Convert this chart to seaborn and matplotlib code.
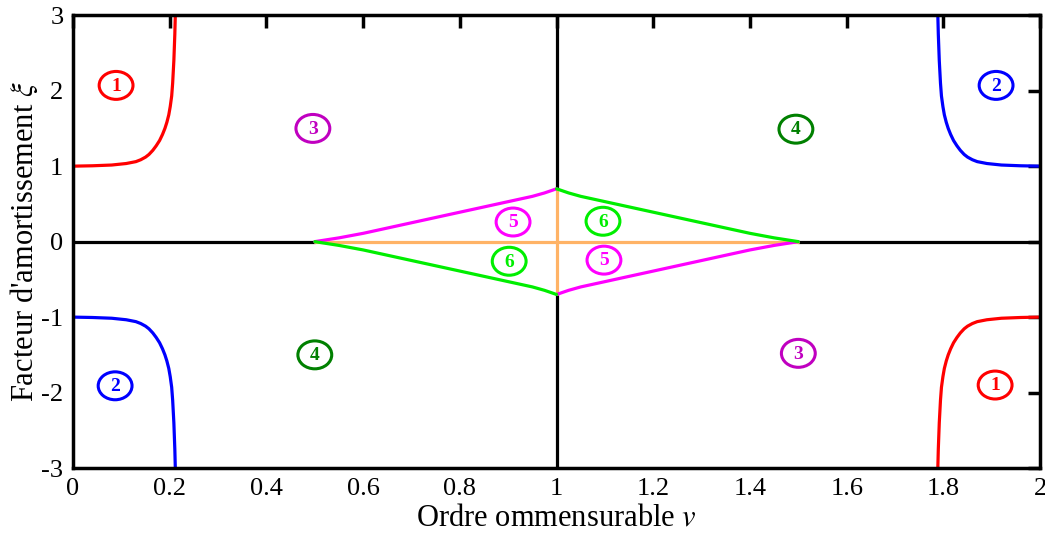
import numpy as np
import pandas as pd
import matplotlib
matplotlib.use('Agg')
import matplotlib.pyplot as plt
from matplotlib.patches import Ellipse
import seaborn as sns

# Curve 1 (red, top left): v -> xi
v_asym = [0.0, 0.04, 0.08, 0.11, 0.13, 0.14, 0.15, 0.157, 0.165, 0.172, 0.179,
          0.185, 0.19, 0.194, 0.198, 0.201, 0.204, 0.206, 0.2085, 0.2105, 0.2115]
xi_asym = [1.0, 1.005, 1.015, 1.035, 1.06, 1.085, 1.12, 1.155, 1.21, 1.27, 1.34,
           1.42, 1.5, 1.58, 1.68, 1.79, 1.93, 2.1, 2.4, 2.75, 3.0]

# Left half of the diamond (upper edge, magenta): v -> xi
v_diam = [0.5, 0.55, 0.6, 0.65, 0.7, 0.75, 0.8, 0.85, 0.9, 0.95, 0.975, 1.0]
xi_diam = [0.0, 0.05, 0.11, 0.18, 0.25, 0.32, 0.39, 0.46, 0.53, 0.6, 0.645, 0.70]

# Region labels
lab_text = ['1', '2', '3', '4', '5', '6', '6', '5', '4', '3', '2', '1']
lab_v = [0.089, 1.909, 0.496, 1.495, 0.910, 1.096, 0.902, 1.098, 0.50, 1.50, 0.087, 1.907]
lab_xi = [2.07, 2.07, 1.50, 1.49, 0.26, 0.27, -0.26, -0.245, -1.50, -1.48, -1.91, -1.90]
lab_col = ['#ff0000', '#0000ff', '#c000c0', '#008000', '#ff00ff', '#00ee00',
           '#00ee00', '#ff00ff', '#008000', '#c000c0', '#0000ff', '#ff0000']

x_ticks = [0, 0.2, 0.4, 0.6, 0.8, 1, 1.2, 1.4, 1.6, 1.8, 2]
x_ticklabels = ['0', '0.2', '0.4', '0.6', '0.8', '1', '1.2', '1.4', '1.6', '1.8', '2']
y_ticks = [-3, -2, -1, 0, 1, 2, 3]

sns.set_style('white')
plt.rcParams['font.family'] = ['Liberation Serif', 'DejaVu Serif']
plt.rcParams['mathtext.fontset'] = 'stix'
plt.rcParams['axes.unicode_minus'] = False
plt.rcParams['text.color'] = 'black'
plt.rcParams['axes.labelcolor'] = 'black'

fig = plt.figure(figsize=(10.45, 5.43), dpi=100)
ax = fig.add_axes([0.0699, 0.138, 0.9254, 0.834])

lw = 2.3
va = np.array(v_asym)
xa = np.array(xi_asym)
vd = np.array(v_diam)
xd = np.array(xi_diam)


def line(x, y, color):
    df = pd.DataFrame({'v': x, 'xi': y})
    sns.lineplot(data=df, x='v', y='xi', color=color, lw=lw, sort=False,
                 estimator=None, ax=ax)


# black and orange axes lines
line([0, 0.5], [0, 0], 'black')
line([1.5, 2], [0, 0], 'black')
line([1, 1], [0.70, 3], 'black')
line([1, 1], [-3, -0.70], 'black')
line([0.5, 1.5], [0, 0], '#ffb366')
line([1, 1], [-0.70, 0.70], '#ffb366')

# asymptotic curves
line(va, xa, '#ff0000')
line(2 - va, -xa, '#ff0000')
line(va, -xa, '#0000ff')
line(2 - va, xa, '#0000ff')

# diamond
line(vd, xd, '#ff00ff')
line(2 - vd, -xd, '#ff00ff')
line(vd, -xd, '#00ee00')
line(2 - vd, xd, '#00ee00')

for t, x, y, c in zip(lab_text, lab_v, lab_xi, lab_col):
    ax.add_patch(Ellipse((x, y), 0.07, 0.37, fc='white', ec=c, lw=2.2, zorder=5))
    ax.text(x, y - 0.01, t, color=c, fontsize=14, fontweight='bold', ha='center',
            va='center', zorder=6)

ax.set_xlim(0, 2)
ax.set_ylim(-3, 3)
ax.set_xticks(x_ticks)
ax.set_xticklabels(x_ticklabels)
ax.set_yticks(y_ticks)
ax.tick_params(direction='in', length=9, width=2.5, labelsize=19, pad=7,
               top=True, right=True, colors='black')
for s in ax.spines.values():
    s.set_linewidth(2.5)
    s.set_color('black')

ax.set_xlabel('Ordre ommensurable $v$', fontsize=22, labelpad=3)
ax.set_ylabel("Facteur d'amortissement $\\xi$", fontsize=22, labelpad=1)

fig.savefig('out.png', dpi=100)
